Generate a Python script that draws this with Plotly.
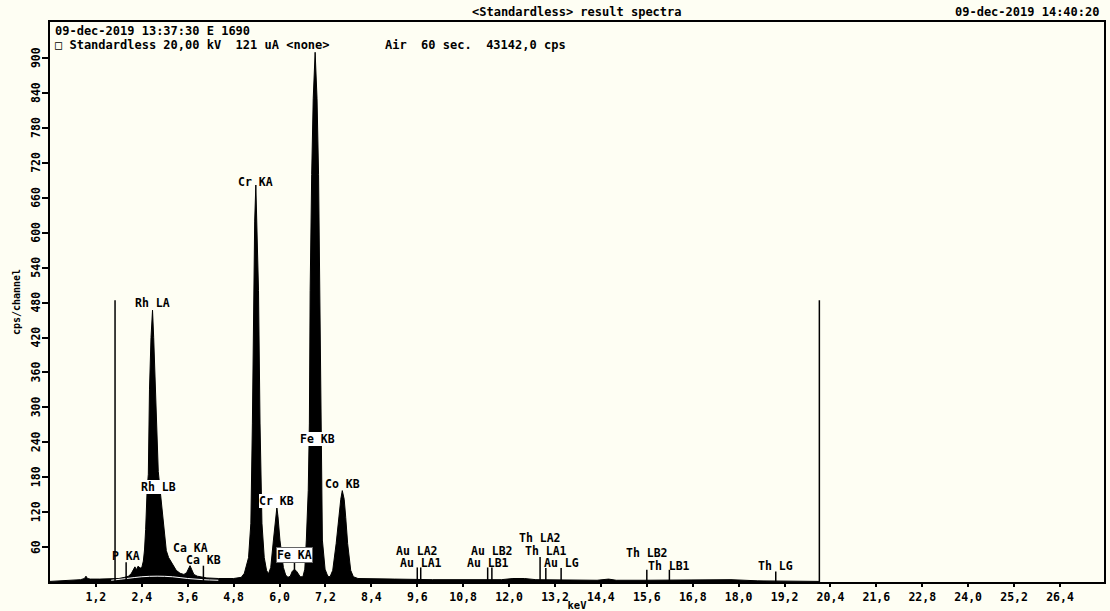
import plotly.graph_objects as go

# ---------------- data ----------------
spec_kev = [0.00, 0.30, 0.60, 0.80, 0.90, 0.94, 0.98, 1.05, 1.30, 1.60, 1.80, 1.95, 2.05, 2.12,
            2.18, 2.22, 2.26, 2.30, 2.36, 2.40, 2.44, 2.47, 2.50, 2.52, 2.54, 2.57, 2.60, 2.64,
            2.68, 2.71, 2.75, 2.80, 2.83, 2.88, 2.96, 3.04, 3.10, 3.19, 3.30, 3.40, 3.50, 3.57,
            3.62, 3.66, 3.70, 3.76, 3.85, 3.95, 4.10, 4.40, 4.80, 5.00, 5.08, 5.19, 5.25, 5.29,
            5.32, 5.35, 5.38, 5.41, 5.45, 5.49, 5.54, 5.60, 5.66, 5.71, 5.77, 5.84, 5.90, 5.93,
            5.96, 6.01, 6.10, 6.16, 6.22, 6.28, 6.33, 6.39, 6.45, 6.54, 6.61, 6.66, 6.70, 6.75,
            6.78, 6.80, 6.84, 6.88, 6.93, 6.98, 7.02, 7.05, 7.07, 7.09, 7.12, 7.19, 7.26, 7.32,
            7.39, 7.48, 7.54, 7.60, 7.64, 7.69, 7.73, 7.78, 7.86, 7.93, 8.05, 8.50, 9.00, 10.00,
            11.00, 11.80, 12.10, 12.40, 12.70, 13.50, 14.30, 14.60, 14.80, 15.50, 16.50, 17.30,
            17.80, 18.50, 19.50, 20.10]
spec_cps = [1, 2, 3, 4, 6, 10, 6, 5, 5, 5, 6, 8, 10, 14,
            22, 26, 21, 27, 24, 25, 36, 55, 90, 128, 160, 185, 330, 420,
            467, 420, 330, 215, 190, 157, 101, 54, 42, 32, 20, 15, 13, 16,
            24, 28, 22, 13, 10, 9, 7, 6, 6, 8, 15, 42, 101, 273,
            501, 620, 682, 620, 501, 273, 101, 42, 20, 14, 25, 72, 112, 128,
            112, 72, 25, 12, 8, 10, 18, 22, 18, 9, 9, 22, 72, 157,
            273, 501, 700, 830, 910, 830, 700, 501, 273, 157, 72, 22, 10, 9,
            20, 66, 111, 142, 157, 142, 111, 66, 20, 9, 6, 5, 5, 4,
            4, 4, 6, 6, 4, 4, 3, 5, 3, 3, 3, 4,
            4, 2, 2, 1]

# fitted background curve (white line inside the filled spectrum)
bg_kev = [1.6, 2.0, 2.4, 2.8, 3.2, 3.6, 4.0, 4.4]
bg_cps = [3, 6, 9, 10, 9, 6, 4, 3]

# KLM line markers
marker_names = ["P KA", "Ca KB", "Fe KA", "Au LA2", "Au LA1", "Au LB1", "Au LB2",
                "Th LA2", "Th LA1", "Au LG", "Th LB2", "Th LB1", "Th LG"]
marker_kev = [1.99, 4.01, 6.39, 9.60, 9.69, 11.44, 11.55, 12.81, 12.96, 13.36, 15.60, 16.19, 18.97]
marker_cps = [34, 28, 43, 25, 25, 25, 25, 43, 24, 24, 21, 21, 18]

# cursor lines
cursor_kev = [1.70, 20.11]
cursor_cps = [484, 484]

# peak / line labels
label_text = ["Rh LA", "Cr KA", "Rh LB", "Fe KB", "Cr KB", "Co KB", "P KA", "Ca KA", "Ca KB",
              "Fe KA", "Au LA2", "Au LA1", "Au LB2", "Au LB1", "Th LA2", "Th LA1", "Au LG",
              "Th LB2", "Th LB1", "Th LG"]
label_kev = [2.68, 5.38, 2.83, 6.98, 5.93, 7.64, 1.99, 3.66, 4.01,
             6.39, 9.60, 9.69, 11.55, 11.44, 12.81, 12.96, 13.36,
             15.60, 16.19, 18.97]
label_cps = [480, 688, 163, 245, 139, 168, 44, 58, 37,
             47, 54, 32, 54, 32, 75, 54, 32,
             50, 28, 27]
label_boxed = ["Rh LB", "Fe KB", "Cr KB", "Fe KA"]

x_tick_vals = [1.2, 2.4, 3.6, 4.8, 6.0, 7.2, 8.4, 9.6, 10.8, 12.0, 13.2, 14.4, 15.6, 16.8,
               18.0, 19.2, 20.4, 21.6, 22.8, 24.0, 25.2, 26.4]
x_tick_text = ["1,2", "2,4", "3,6", "4,8", "6,0", "7,2", "8,4", "9,6", "10,8", "12,0", "13,2",
               "14,4", "15,6", "16,8", "18,0", "19,2", "20,4", "21,6", "22,8", "24,0", "25,2", "26,4"]
y_tick_vals = [60, 120, 180, 240, 300, 360, 420, 480, 540, 600, 660, 720, 780, 840, 900]
y_tick_text = ["60", "120", "180", "240", "300", "360", "420", "480", "540", "600", "660",
               "720", "780", "840", "900"]

header_left_1 = "09-dec-2019 13:37:30 E 1690"
header_left_2 = "\u25a1 Standardless 20,00 kV&nbsp;&nbsp;121 uA &lt;none&gt;"
header_mid_2 = "Air&nbsp;&nbsp;60 sec.&nbsp;&nbsp;43142,0 cps"
title_text = "&lt;Standardless&gt; result spectra"
title_right = "09-dec-2019 14:40:20"

# ---------------- figure ----------------
FONT = "DejaVu Sans Mono"
BG = "#fefef3"

def F(size):
    return dict(family=FONT, size=size, color="black", weight="bold")

fig = go.Figure()
fig.add_trace(go.Scatter(x=spec_kev, y=spec_cps, mode="lines",
                         line=dict(color="black", width=1),
                         fill="tozeroy", fillcolor="black", hoverinfo="skip"))
fig.add_trace(go.Scatter(x=bg_kev, y=bg_cps, mode="lines", line=dict(color="white", width=1),
                         line_shape="spline", hoverinfo="skip"))

mx, my = [], []
for k, c in zip(marker_kev, marker_cps):
    mx += [k, k, None]
    my += [0, c, None]
fig.add_trace(go.Scatter(x=mx, y=my, mode="lines", line=dict(color="black", width=1.5),
                         hoverinfo="skip"))
cx, cy = [], []
for k, c in zip(cursor_kev, cursor_cps):
    cx += [k, k, None]
    cy += [0, c, None]
fig.add_trace(go.Scatter(x=cx, y=cy, mode="lines", line=dict(color="black", width=1.5),
                         hoverinfo="skip"))

for t, k, c in zip(label_text, label_kev, label_cps):
    boxed = t in label_boxed
    fig.add_annotation(x=k, y=c, xref="x", yref="y", text=t, showarrow=False,
                       xanchor="center", yanchor="middle", font=F(11.5),
                       bgcolor="white" if boxed else None,
                       bordercolor="#666666" if t == "Fe KA" else None,
                       borderwidth=1 if t == "Fe KA" else 0, borderpad=0)

px_w = 1104 - 50
px_h = 611 - 29 - 22
def ppx(p):
    return (p - 50) / px_w
def ppy(p):
    return (611 - 29 - p) / px_h

# rotated y tick labels (reading bottom-to-top), placed on the y scale
for v, t in zip(y_tick_vals, y_tick_text):
    fig.add_annotation(x=ppx(36), y=v, xref="paper", yref="y", text=t, showarrow=False,
                       textangle=-90, xanchor="center", yanchor="middle", font=F(11.5))

common = dict(xref="paper", yref="paper", showarrow=False, font=F(12))
fig.add_annotation(x=ppx(53), y=ppy(31), text=header_left_1, xanchor="left", yanchor="middle", **common)
fig.add_annotation(x=ppx(53), y=ppy(45), text=header_left_2, xanchor="left", yanchor="middle", **common)
fig.add_annotation(x=ppx(383), y=ppy(45), text=header_mid_2, xanchor="left", yanchor="middle", **common)
fig.add_annotation(x=0.5, y=ppy(12), text=title_text, xanchor="center", yanchor="middle", **common)
fig.add_annotation(x=ppx(1102), y=ppy(12), text=title_right, xanchor="right", yanchor="middle", **common)

fig.update_layout(
    width=1110, height=611,
    margin=dict(l=50, r=6, t=22, b=29, pad=0),
    paper_bgcolor=BG, plot_bgcolor=BG,
    showlegend=False,
    font=dict(family=FONT, size=12, color="black"),
    xaxis=dict(range=[0, 27.55], showgrid=False, zeroline=False,
               showline=True, linecolor="black", linewidth=1.5, mirror=True,
               ticks="outside", ticklen=3, tickwidth=1.5, tickcolor="black",
               tickvals=x_tick_vals, ticktext=x_tick_text, tickfont=F(11.5),
               title=dict(text="keV", font=F(10.5), standoff=0),
               automargin=False),
    yaxis=dict(range=[0, 962], showgrid=False, zeroline=False,
               showline=True, linecolor="black", linewidth=1.5, mirror=True,
               ticks="outside", ticklen=6, tickwidth=1.5, tickcolor="black",
               tickvals=y_tick_vals, showticklabels=False,
               title=dict(text="cps/channel", font=F(10), standoff=20),
               automargin=False),
)

fig.write_html("out.html")
